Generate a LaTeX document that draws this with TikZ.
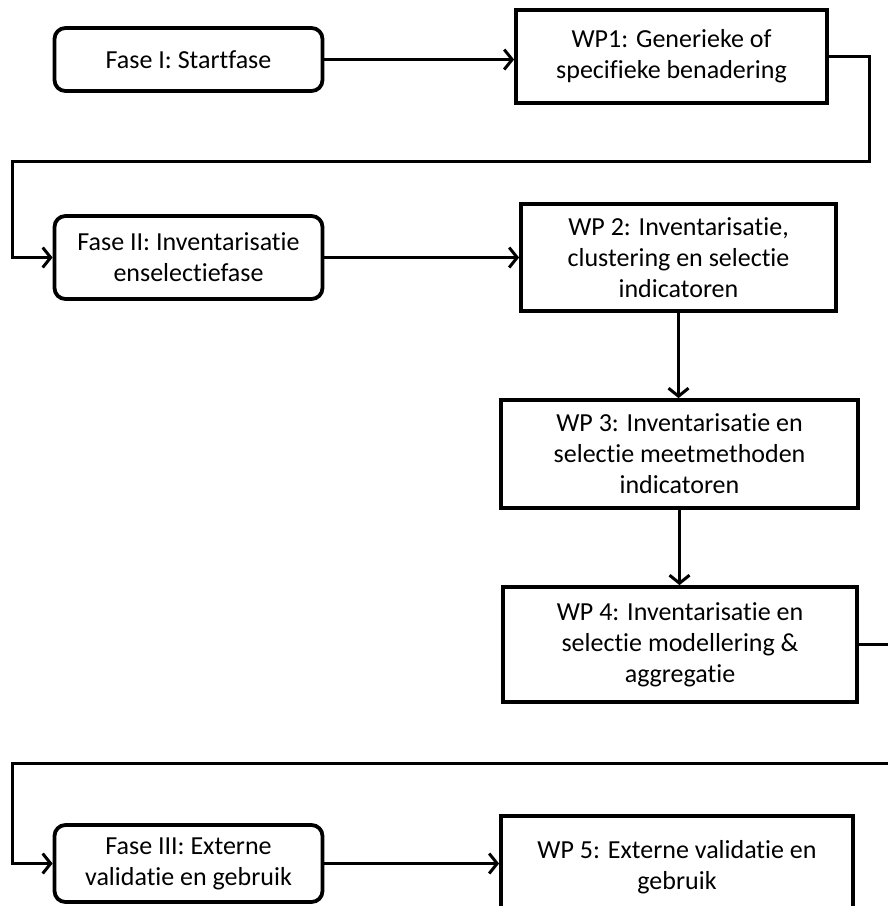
\documentclass[tikz,border=0pt]{standalone}
\usepackage{fontspec}
\setmainfont{Carlito}[Ligatures=NoCommon]
\usepackage{tikz}
\usetikzlibrary{arrows.meta}
\tikzset{%
	>={Straight Barb[length=8pt, width=20pt, line width=3pt]},
	conn/.style = {line width = 3pt},
	fase/.style = {name = #1, draw, line width = 3.8pt, rounded corners = 11pt, minimum width = 268pt, align = center, font = \fontsize{26}{31}\selectfont},
	wp/.style = {name = #1, draw, line width = 3.8pt, align = center, font = \fontsize{26}{31}\selectfont}
}
\begin{document}
\begin{tikzpicture}[x=1pt, y=-1pt]
	\useasboundingbox (0,0) rectangle (888,906);
	\node [fase = {fase1}, minimum height = 63pt] at (188.5,59.5) {Fase I: Startfase};
	\node [wp = {wp1}, minimum width = 311pt, minimum height = 93pt] at (671.5,56.5) {WP1: Generieke of\\specifieke benadering};
	\node [fase = {fase2}, minimum height = 83pt] at (188.5,257.5) {Fase II: Inventarisatie\\enselectiefase};
	\node [wp = {wp2}, minimum width = 315pt, minimum height = 107pt] at (678.5,257.5) {WP 2: Inventarisatie,\\clustering en selectie\\indicatoren};
	\node [wp = {wp3}, minimum width = 357pt, minimum height = 108pt] at (679.5,454) {WP 3: Inventarisatie en\\selectie meetmethoden\\indicatoren};
	\node [wp = {wp4}, minimum width = 354pt, minimum height = 115pt] at (680,644.5) {WP 4: Inventarisatie en\\selectie modellering \&\\aggregatie};
	\node [fase = {fase3}, minimum height = 77pt] at (188.5,863.5) {Fase III: Externe\\validatie en gebruik};
	\node [wp = {wp5}, minimum width = 352pt, minimum height = 102pt] at (677,867) {WP 5: Externe validatie en\\gebruik};
	\coordinate (loopA) at (12,161);
	\coordinate (loopB) at (12,763);
	\coordinate (outR) at (900,644.5);
	\coordinate (inR) at (900,763);
	\draw [conn, ->] (fase1.east) -- (fase1.east -| wp1.west);
	\draw [conn, ->] (wp1.east) -- ++(41,0) |- (loopA) |- (fase2.west);
	\draw [conn, ->] (fase2.east) -- (fase2.east -| wp2.west);
	\draw [conn, ->] (wp2.south) -- (wp2.south |- wp3.north);
	\draw [conn, ->] (wp3.south) -- (wp3.south |- wp4.north);
	\draw [conn] (wp4.east) -- (outR);
	\draw [conn, ->] (inR) -- (loopB) |- (fase3.west);
	\draw [conn, ->] (fase3.east) -- (fase3.east -| wp5.west);
\end{tikzpicture}
\end{document}
